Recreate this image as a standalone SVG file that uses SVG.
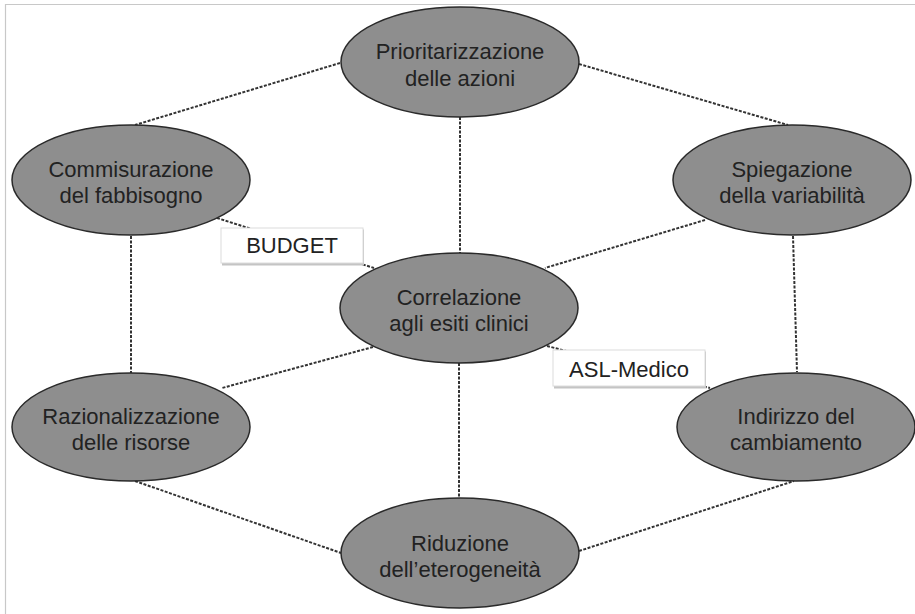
<svg xmlns="http://www.w3.org/2000/svg" width="915" height="614" viewBox="0 0 915 614">
<defs>
<style>
.node ellipse{fill:#8e8e8e;stroke:#2a2a2a;stroke-width:1.5}
.node text,.lbl text{font-family:"Liberation Sans",Arial,sans-serif;font-size:22px;fill:#222222;text-anchor:middle}
.conn line{stroke:#333333;stroke-width:2;stroke-dasharray:3 1.5;fill:none}
.lbl .sh{fill:#c4c4c4}
.lbl .bx{fill:#ffffff;stroke:#dcdcdc;stroke-width:1}
</style>
</defs>
<rect x="0" y="0" width="915" height="614" fill="#ffffff"/>
<path d="M5.5 614 V4.5 H915" fill="none" stroke="#c8c8c8" stroke-width="1.2"/>
<g id="connectors" class="conn">
<line x1="340" y1="63" x2="135" y2="125"/>
<line x1="579" y1="64" x2="788" y2="125"/>
<line x1="460" y1="117" x2="460" y2="253"/>
<line x1="131" y1="236" x2="131" y2="373"/>
<line x1="793" y1="236" x2="797" y2="372"/>
<line x1="705" y1="220" x2="545" y2="268"/>
<line x1="373" y1="347" x2="222" y2="388"/>
<line x1="459" y1="363" x2="459" y2="498"/>
<line x1="135" y1="481" x2="341" y2="553"/>
<line x1="579" y1="551" x2="794" y2="481"/>
<line x1="217" y1="218" x2="374" y2="268"/>
<line x1="547" y1="346" x2="710" y2="388"/>
</g>
<g id="n-prioritarizzazione" class="node">
<ellipse cx="460" cy="62" rx="119" ry="55"/>
<text x="460" y="59">Prioritarizzazione</text>
<text x="460" y="86">delle azioni</text>
</g>
<g id="n-commisurazione" class="node">
<ellipse cx="131" cy="180" rx="119" ry="55"/>
<text x="131" y="177">Commisurazione</text>
<text x="131" y="203">del fabbisogno</text>
</g>
<g id="n-spiegazione" class="node">
<ellipse cx="792" cy="180" rx="119" ry="55"/>
<text x="792" y="177">Spiegazione</text>
<text x="792" y="203">della variabilità</text>
</g>
<g id="n-correlazione" class="node">
<ellipse cx="459" cy="308" rx="119" ry="55"/>
<text x="459" y="305">Correlazione</text>
<text x="459" y="331">agli esiti clinici</text>
</g>
<g id="n-razionalizzazione" class="node">
<ellipse cx="131" cy="427" rx="119" ry="54"/>
<text x="131" y="424">Razionalizzazione</text>
<text x="131" y="450">delle risorse</text>
</g>
<g id="n-indirizzo" class="node">
<ellipse cx="796" cy="427" rx="119" ry="54"/>
<text x="796" y="424">Indirizzo del</text>
<text x="796" y="450">cambiamento</text>
</g>
<g id="n-riduzione" class="node">
<ellipse cx="460" cy="553" rx="119" ry="55"/>
<text x="460" y="551">Riduzione</text>
<text x="460" y="577">dell’eterogeneità</text>
</g>
<g id="l-budget" class="lbl">
<rect class="sh" x="222" y="229.5" width="142" height="36"/>
<rect class="bx" x="221" y="228" width="142" height="35"/>
<text x="292" y="253">BUDGET</text>
</g>
<g id="l-aslmedico" class="lbl">
<rect class="sh" x="554" y="351.5" width="152" height="37"/>
<rect class="bx" x="553" y="350" width="152" height="36"/>
<text x="629" y="377">ASL-Medico</text>
</g>
</svg>
